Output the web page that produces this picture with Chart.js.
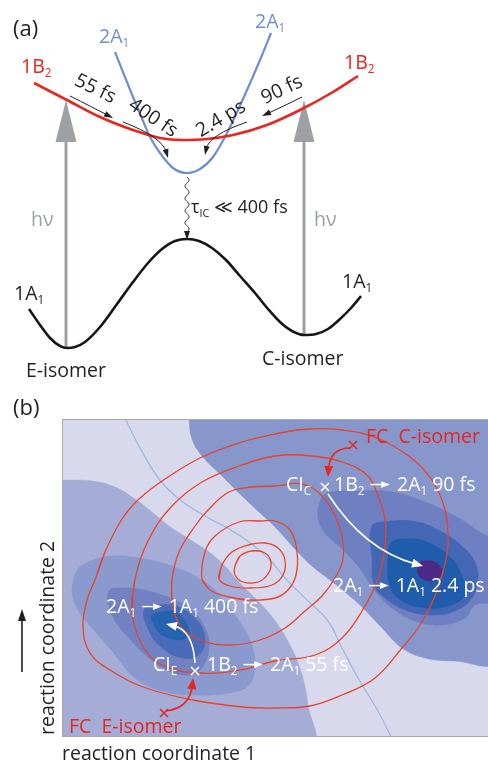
<!DOCTYPE html>
<html>
<head>
<meta charset="utf-8">
<script src="https://cdn.jsdelivr.net/npm/chart.js@4.4.1/dist/chart.umd.min.js"></script>
<style>
  body { margin: 0; background: #fff; }
  canvas { display: block; }
</style>
</head>
<body>
<canvas id="panelA" width="488" height="390"></canvas>
<canvas id="panelB" width="488" height="376"></canvas>
<script>
// (a) potential energy curves, [reaction path, energy] (energy grows upwards)
const state1B2 = [[34,83],[67,100],[100,117],[133,130],[160,138],[182,140],[207,139],[233,135],[267,125],[300,110],[333,92],[358,76]];
const state2A1 = [[115,52],[133,97],[143,121],[150,137],[160,153],[173,168],[187,173],[200,169],[213,157],[227,133],[247,90],[260,60],[271,33]];
const state1A1 = [[29,309],[40,325],[50,338],[60,346],[67,348],[75,347],[85,342],[100,327],[117,304],[133,282],[148,263],[162,249],[175,241],[187,239],[199,241],[212,248],[226,260],[240,276],[255,293],[268,309],[280,322],[292,331],[304,335],[316,334],[328,329],[340,319],[351,308],[361,296]];
// excitation arrows: [x, bottom, tip]
const excitation = [[66,348,100],[304,335,100]];
// time constant arrows: [x0, y0, cx, cy, x1, y1]
const decayArrows = [[70,96,92,107,113,118],[123,122,162,137,168,158],[247,122,209,135,205,155],[302,97,282,107,262,116]];
const decayLabels = [['55 fs',95,89,26],['400 fs',153,118,34],['2.4 ps',221,119,-31],['90 fs',282,90,-25]];
// internal conversion: [x, top, bottom]
const relax = [187,177,240];

// (b) filled contours of 2A1, light to dark
const left1 = [[55,480],[62,480],[92,481],[115,487],[135,499],[152,512],[169,526],[189,539],[209,552],[225,566],[237,580],[254,597],[273,618],[290,645],[302,675],[308,705],[311,745],[55,745]];
const right1 = [[189,412],[189,419],[192,439],[202,456],[222,476],[242,496],[259,512],[275,527],[295,549],[312,566],[330,580],[345,592],[362,607],[382,628],[402,648],[425,658],[455,661],[495,660],[495,412]];
const left2 = [[72,590],[76,572],[88,562],[112,556],[145,559],[172,566],[195,576],[215,590],[235,615],[250,640],[255,665],[249,685],[229,693],[195,695],[162,691],[135,678],[112,651],[92,628],[77,608]];
const right2 = [[318,509],[325,494],[358,491],[392,492],[425,502],[455,516],[475,529],[495,545],[495,600],[475,605],[465,618],[442,625],[415,621],[392,608],[375,591],[358,566],[342,549],[322,529]];
const left3 = [[109,591],[129,588],[162,595],[189,608],[205,628],[209,648],[202,668],[189,675],[169,671],[149,658],[129,638],[112,615]];
const right3 = [[372,526],[392,521],[418,522],[442,532],[462,546],[475,562],[478,579],[472,598],[455,611],[435,615],[408,611],[385,598],[374,585],[372,559]];
const left4 = [[145,608],[172,605],[195,618],[205,638],[199,655],[182,658],[162,648],[149,631]];
const right4 = [[392,542],[415,539],[435,546],[452,559],[462,576],[465,595],[448,606],[425,608],[402,601],[390,586],[388,559]];
const left5 = [[152,615],[172,611],[185,621],[189,635],[179,640],[162,635],[154,625]];
const right5 = [[420,562],[432,561],[440,566],[442,574],[435,580],[425,580],[418,574]];
const seam = [[122,412],[139,446],[159,479],[179,499],[205,516],[229,529],[249,542],[269,559],[285,578],[308,601],[328,621],[342,648],[358,678],[378,711],[395,745]];
// 1B2 contour lines, outer to inner
const contours1B2 = [
  [[105,552],[95,580],[87,600],[83,627],[90,653],[110,670],[143,687],[193,700],[243,707],[275,708],[310,706],[342,695],[375,678],[402,648],[418,628],[432,603],[442,575],[448,545],[445,510],[432,480],[410,457],[377,438],[342,430],[308,429],[275,434],[242,442],[202,457],[165,479],[139,499],[122,519]],
  [[135,579],[132,611],[142,645],[162,665],[200,673],[240,670],[275,661],[315,655],[342,638],[362,611],[378,579],[385,546],[385,519],[378,496],[368,476],[342,462],[312,456],[275,456],[239,466],[202,482],[172,506],[149,539]],
  [[172,579],[172,600],[180,625],[200,640],[230,645],[260,640],[285,628],[305,611],[322,596],[335,578],[343,559],[342,536],[335,516],[322,496],[302,484],[275,486],[252,487],[229,492],[209,509],[195,526],[179,552]],
  [[202,579],[210,590],[229,597],[250,600],[275,598],[288,590],[296,575],[297,552],[290,530],[275,521],[262,521],[239,522],[215,536],[205,552]],
  [[219,579],[222,565],[232,552],[248,545],[265,543],[278,548],[285,560],[283,575],[272,585],[250,588],[230,586]],
  [[235,566],[240,556],[252,551],[265,553],[271,562],[268,574],[258,582],[243,582],[235,575]]
];
// conical intersections and Franck-Condon points
const ciPoints = [[325,487],[195,671]];
const fcPoints = [[353,445],[164,713]];
const pathArrowsWhite = [[328,494,364,550,423,566],[195,663,193,630,166,624]];
const pathArrowsRed = [[350,448,330,448,328,477],[166,711,190,708,193,678]];

const FONT = '"Open Sans", "DejaVu Sans", sans-serif';
const DARK = '#231f20', RED = '#e8261f', BLUE = '#6e8ed0', GRAY = '#9da1a3', WHITE = '#ffffff';
const SIZE = 19.5;

const xy = a => a.map(p => ({x: p[0], y: p[1]}));
// closing a ring: wrap one extra point so the join stays smooth
const ring = a => xy(a.concat([a[0], a[1]]));

function head(ctx, x, y, ang, len, hw, color) {
    ctx.save();
    ctx.translate(x, y);
    ctx.rotate(ang);
    ctx.fillStyle = color;
    ctx.beginPath();
    ctx.moveTo(0, 0);
    ctx.lineTo(-len, -hw);
    ctx.lineTo(-len, hw);
    ctx.closePath();
    ctx.fill();
    ctx.restore();
}

// text with subscripts ("_x") and arrows ("->")
function rich(ctx, x, y, parts, size, color) {
    ctx.fillStyle = color;
    ctx.textAlign = 'left';
    ctx.textBaseline = 'alphabetic';
    parts.forEach(p => {
        if (p === '->') {
            const my = y - size * 0.33;
            ctx.strokeStyle = color;
            ctx.lineWidth = 1.5;
            ctx.beginPath();
            ctx.moveTo(x + 1, my);
            ctx.lineTo(x + size * 0.7, my);
            ctx.stroke();
            head(ctx, x + size * 1.05, my, 0, size * 0.45, size * 0.17, color);
            x += size * 1.15;
            return;
        }
        const sub = p[0] === '_';
        const t = sub ? p.slice(1) : p;
        ctx.font = (sub ? size * 0.6 : size) + 'px ' + FONT;
        ctx.fillText(t, x, sub ? y + size * 0.2 : y);
        x += ctx.measureText(t).width;
    });
}

function curveArrow(ctx, sx, sy, a, color, lw, hl, hw) {
    const p = [sx(a[0]), sy(a[1]), sx(a[2]), sy(a[3]), sx(a[4]), sy(a[5])];
    const ang = Math.atan2(p[5] - p[3], p[4] - p[2]);
    ctx.strokeStyle = color;
    ctx.lineWidth = lw;
    ctx.beginPath();
    ctx.moveTo(p[0], p[1]);
    ctx.quadraticCurveTo(p[2], p[3], p[4] - Math.cos(ang) * hl * 0.7, p[5] - Math.sin(ang) * hl * 0.7);
    ctx.stroke();
    head(ctx, p[4], p[5], ang, hl, hw, color);
}

function cross(ctx, x, y, r, color) {
    ctx.strokeStyle = color;
    ctx.lineWidth = 1.5;
    ctx.beginPath();
    ctx.moveTo(x - r, y - r); ctx.lineTo(x + r, y + r);
    ctx.moveTo(x + r, y - r); ctx.lineTo(x - r, y + r);
    ctx.stroke();
}

const curve = (a, color, width, order) => ({
    data: xy(a), showLine: true, borderColor: color, borderWidth: width, pointRadius: 0, tension: 0.4, order
});
const pes = (a, color, width, order) => ({...curve(a, color, width, order), cubicInterpolationMode: 'monotone'});

// ---------- panel (a)
const labelsA = [
    [13, 36, ['(a)'], 22, DARK],
    [99, 43, ['2A', '_1'], SIZE, BLUE],
    [255, 28, ['2A', '_1'], SIZE, BLUE],
    [21, 73, ['1B', '_2'], SIZE, RED],
    [344, 69, ['1B', '_2'], SIZE, RED],
    [31, 226, ['hν'], SIZE, GRAY],
    [314, 226, ['hν'], SIZE, GRAY],
    [191, 213, ['τ', '_IC', ' ≪ 400 fs'], 18, DARK],
    [14, 300, ['1A', '_1'], SIZE, DARK],
    [342, 288, ['1A', '_1'], SIZE, DARK],
    [26, 377, ['E-isomer'], SIZE, DARK],
    [262, 365, ['C-isomer'], SIZE, DARK]
];

const annotA = {
    id: 'annotA',
    beforeDatasetsDraw(chart) {
        const {ctx, scales: {x, y}} = chart;
        excitation.forEach(e => {
            const tip = y.getPixelForValue(e[2]);
            head(ctx, x.getPixelForValue(e[0]), tip, -Math.PI / 2, 42, 10.5, GRAY);
        });
    },
    afterDatasetsDraw(chart) {
        const {ctx, scales: {x, y}} = chart;
        const sx = v => x.getPixelForValue(v), sy = v => y.getPixelForValue(v);
        ctx.save();
        decayArrows.forEach(a => curveArrow(ctx, sx, sy, a, DARK, 1, 9, 3));
        // wavy internal conversion arrow
        const wx = sx(relax[0]), y0 = sy(relax[1]), y1 = sy(relax[2]) - 8;
        ctx.strokeStyle = DARK;
        ctx.lineWidth = 1;
        ctx.beginPath();
        for (let yy = y0; yy <= y1; yy += 0.5) {
            const xx = wx + 2 * Math.sin((yy - y0) / (y1 - y0) * Math.PI * 9);
            yy === y0 ? ctx.moveTo(xx, yy) : ctx.lineTo(xx, yy);
        }
        ctx.stroke();
        head(ctx, wx, sy(relax[2]), Math.PI / 2, 9, 3, DARK);
        labelsA.forEach(l => rich(ctx, sx(l[0]), sy(l[1]), l[2], l[3], l[4]));
        decayLabels.forEach(l => {
            ctx.save();
            ctx.translate(sx(l[1]), sy(l[2]));
            ctx.rotate(l[3] * Math.PI / 180);
            ctx.font = SIZE + 'px ' + FONT;
            ctx.fillStyle = DARK;
            ctx.textAlign = 'center';
            ctx.textBaseline = 'middle';
            ctx.fillText(l[0], 0, 0);
            ctx.restore();
        });
        ctx.restore();
    }
};

new Chart(document.getElementById('panelA'), {
    type: 'scatter',
    data: {
        datasets: [
            pes(state1B2, RED, 2.6, 1),
            pes(state2A1, BLUE, 2.2, 2),
            pes(state1A1, '#161616', 2.6, 3),
            ...excitation.map(e => curve([[e[0], e[1]], [e[0], e[2] + 40]], GRAY, 3, 4))
        ]
    },
    options: {
        responsive: false,
        animation: false,
        layout: {padding: 0},
        elements: {line: {capBezierPoints: false}},
        plugins: {legend: {display: false}, tooltip: {enabled: false}},
        scales: {
            x: {display: false, min: 0, max: 488},
            y: {display: false, min: 0, max: 390, reverse: true}
        }
    },
    plugins: [annotA]
});

// ---------- panel (b)
const labelsB = [
    [13, 415, ['(b)'], 22, DARK],
    [366, 443, ['FC  C-isomer'], SIZE, RED],
    [286, 491, ['CI', '_C'], SIZE, WHITE],
    [334, 491, ['1B', '_2', ' ', '->', ' 2A', '_1', ' 90 fs'], SIZE, WHITE],
    [333, 592, ['2A', '_1', ' ', '->', ' 1A', '_1', ' 2.4 ps'], SIZE, WHITE],
    [106, 613, ['2A', '_1', ' ', '->', ' 1A', '_1', ' 400 fs'], SIZE, WHITE],
    [153, 671, ['CI', '_E'], SIZE, WHITE],
    [207, 671, ['1B', '_2', ' ', '->', ' 2A', '_1', ' 55 fs'], SIZE, WHITE],
    [69, 733, ['FC  E-isomer'], SIZE, RED]
];

const fillSet = (a, color, order) => ({
    data: ring(a), showLine: true, fill: 'shape', backgroundColor: color,
    borderColor: color, borderWidth: 0.5, pointRadius: 0, tension: 0.4, order
});

const annotB = {
    id: 'annotB',
    beforeDatasetsDraw(chart) {
        const {ctx, chartArea: c} = chart;
        ctx.save();
        ctx.fillStyle = '#d8d9ec';
        ctx.fillRect(c.left, c.top, c.right - c.left, c.bottom - c.top);
        ctx.restore();
    },
    afterDatasetsDraw(chart) {
        const {ctx, chartArea: c, scales: {x, y}} = chart;
        const sx = v => x.getPixelForValue(v), sy = v => y.getPixelForValue(v);
        ctx.save();
        // frame
        ctx.strokeStyle = '#a7a9ac';
        ctx.lineWidth = 1;
        ctx.beginPath();
        ctx.moveTo(c.right, c.top + 0.5);
        ctx.lineTo(c.left + 0.5, c.top + 0.5);
        ctx.lineTo(c.left + 0.5, c.bottom - 0.5);
        ctx.lineTo(c.right, c.bottom - 0.5);
        ctx.stroke();
        pathArrowsWhite.forEach(a => curveArrow(ctx, sx, sy, a, WHITE, 1.6, 11, 4.5));
        pathArrowsRed.forEach(a => curveArrow(ctx, sx, sy, a, RED, 1.6, 11, 4.5));
        ciPoints.forEach(p => cross(ctx, sx(p[0]), sy(p[1]), 4, WHITE));
        fcPoints.forEach(p => cross(ctx, sx(p[0]), sy(p[1]), 4, RED));
        labelsB.forEach(l => rich(ctx, sx(l[0]), sy(l[1]), l[2], l[3], l[4]));
        // vertical axis title with arrow
        ctx.save();
        ctx.translate(sx(54), sy(735));
        ctx.rotate(-Math.PI / 2);
        rich(ctx, 0, 0, ['reaction coordinate 2'], SIZE, DARK);
        ctx.restore();
        ctx.strokeStyle = DARK;
        ctx.lineWidth = 1.6;
        ctx.beginPath();
        ctx.moveTo(sx(22), sy(672));
        ctx.lineTo(sx(22), sy(620));
        ctx.stroke();
        head(ctx, sx(22), sy(609), -Math.PI / 2, 12, 4, DARK);
        ctx.restore();
    }
};

const levels = [
    [left1, '#a5add6'], [right1, '#8797cb'], [left2, '#8a9ace'], [right2, '#6f80c2'],
    [left3, '#7181c2'], [right3, '#4367b5'], [left4, '#4a6cb8'], [right4, '#1f5cab'],
    [left5, '#2563b0'], [right5, '#4b2a86']
];

new Chart(document.getElementById('panelB'), {
    type: 'scatter',
    data: {
        datasets: [
            ...levels.map((l, i) => fillSet(l[0], l[1], 30 - i)),
            curve(seam, '#a3b8e0', 1.3, 15),
            ...contours1B2.map(cl => ({...curve(cl, '#e8432d', 1.3, 5), data: ring(cl)}))
        ]
    },
    options: {
        responsive: false,
        animation: false,
        layout: {padding: {left: 62, top: 29, right: 0, bottom: 0}},
        elements: {line: {capBezierPoints: false}},
        plugins: {legend: {display: false}, tooltip: {enabled: false}},
        scales: {
            x: {
                min: 62, max: 488,
                grid: {display: false, drawTicks: false},
                ticks: {display: false},
                border: {display: false},
                title: {
                    display: true, text: 'reaction coordinate 1', align: 'start',
                    color: DARK, font: {family: FONT, size: SIZE}, padding: {top: 5.6, bottom: 0}
                }
            },
            y: {display: false, min: 419, max: 737, reverse: true}
        }
    },
    plugins: [annotB]
});
</script>
</body>
</html>
